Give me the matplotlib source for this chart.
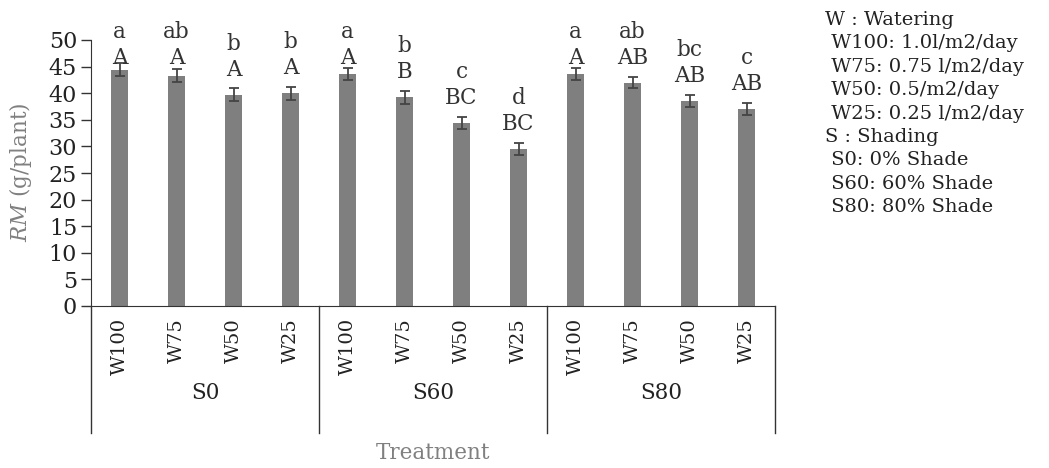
import numpy as np
import matplotlib
matplotlib.use("Agg")
import matplotlib.pyplot as plt
import matplotlib.transforms as mtransforms

plt.rcParams['font.family'] = ['DejaVu Serif']
plt.rcParams['mathtext.fontset'] = 'dejavuserif'

# data
shading = ['S0', 'S60', 'S80']
watering = ['W100', 'W75', 'W50', 'W25']
rm_mean = [44.4, 43.3, 39.7, 40.0,
           43.6, 39.2, 34.4, 29.5,
           43.6, 42.0, 38.6, 37.0]
rm_err = [1.2, 1.2, 1.2, 1.2,
          1.2, 1.2, 1.1, 1.1,
          1.2, 1.1, 1.1, 1.1]
lower_letters = ['a', 'ab', 'b', 'b',
                 'a', 'b', 'c', 'd',
                 'a', 'ab', 'bc', 'c']
upper_letters = ['A', 'A', 'A', 'A',
                 'A', 'B', 'BC', 'BC',
                 'A', 'AB', 'AB', 'AB']
legend_lines = ['W : Watering',
                ' W100: 1.0l/m2/day',
                ' W75: 0.75 l/m2/day',
                ' W50: 0.5/m2/day',
                ' W25: 0.25 l/m2/day',
                'S : Shading',
                ' S0: 0% Shade',
                ' S60: 60% Shade',
                ' S80: 80% Shade']

W, H = 1049, 468
fig = plt.figure(figsize=(W / 100, H / 100), dpi=100)
ax = fig.add_axes([91 / W, 1 - 306 / H, (775 - 91) / W, (306 - 40) / H])

n = len(rm_mean)
x = np.arange(n)
ax.bar(x, rm_mean, width=0.3, color='#7f7f7f', zorder=2)
ax.errorbar(x, rm_mean, yerr=rm_err, fmt='none', ecolor='#444444',
            elinewidth=1.3, capsize=3.5, capthick=1.3, zorder=3)

ax.set_xlim(-0.5, n - 0.5)
ax.set_ylim(0, 50)
ax.set_yticks(np.arange(0, 51, 5))
ax.tick_params(axis='y', direction='out', length=7, width=1, color='#333333',
               labelsize=16, labelcolor='#222222', pad=3)
ax.set_xticks([])
for s in ['top', 'right']:
    ax.spines[s].set_visible(False)
ax.spines['left'].set_color('#333333')
ax.spines['bottom'].set_color('#333333')

# significance letters
for i in range(n):
    yu = min(rm_mean[i] + 4.7, 46.6)
    ax.text(x[i], yu, upper_letters[i], ha='center', va='center',
            fontsize=15.5, color='#333333')
    ax.text(x[i], yu + 4.9, lower_letters[i], ha='center', va='center',
            fontsize=15.5, color='#333333')

# category axis below the plot
trans = mtransforms.blended_transform_factory(ax.transData, ax.transAxes)
depth = -(433 - 306) / (306 - 40)
for b in [-0.5, 3.5, 7.5, 11.5]:
    ax.plot([b, b], [0, depth], transform=trans, color='#333333',
            lw=1, clip_on=False)
for i in range(n):
    ax.text(x[i], -(318 - 306) / (306 - 40), watering[i % 4], rotation=90,
            ha='center', va='top', fontsize=14, color='#222222',
            transform=trans)
for g, name in enumerate(shading):
    ax.text(g * 4 + 1.5, -(393 - 306) / (306 - 40), name, ha='center',
            va='center', fontsize=15.5, color='#222222', transform=trans)

ax.text(0.5, -(453 - 306) / (306 - 40), 'Treatment', ha='center', va='center',
        fontsize=15.5, color='#808080', transform=ax.transAxes)
fig.text(20 / W, 1 - 172 / H, r'$RM$ (g/plant)', rotation=90, ha='center',
         va='center', fontsize=15.5, color='#808080')

# legend text at the right
for k, line in enumerate(legend_lines):
    fig.text(825 / W, 1 - (20 + 23.4 * k) / H, line, ha='left', va='center',
             fontsize=14, color='#222222')

fig.savefig('out.png', dpi=100)
